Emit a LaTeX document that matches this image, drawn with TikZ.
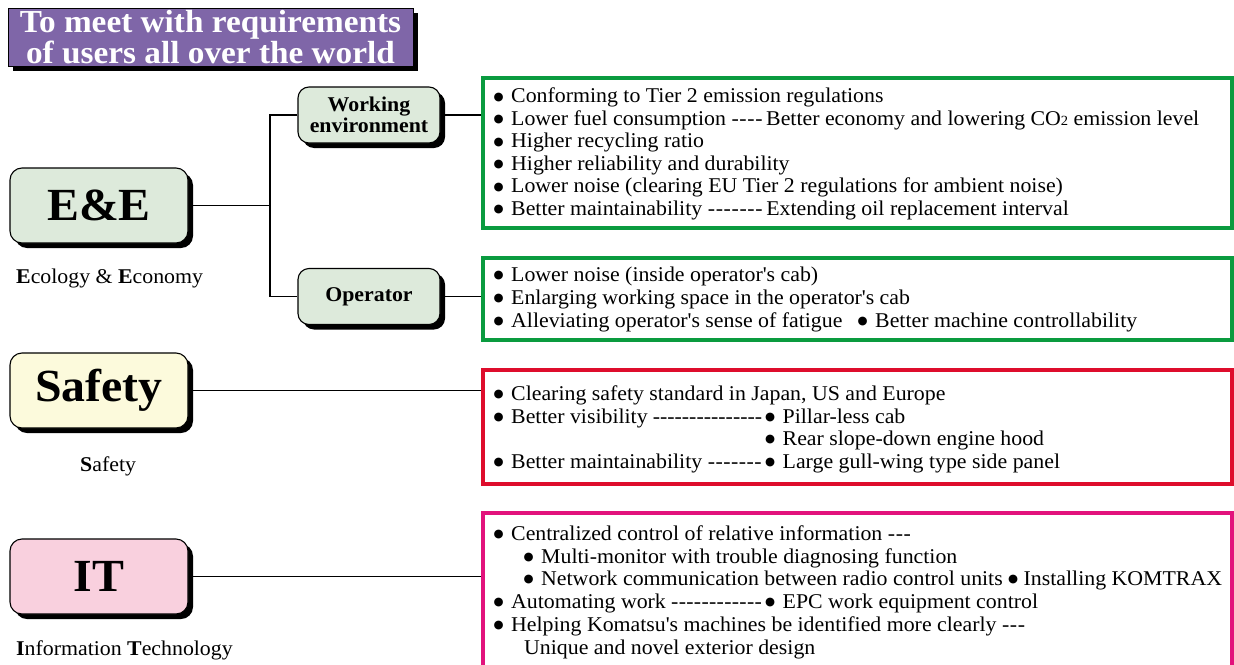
\documentclass[tikz,border=0pt]{standalone}
\usepackage{fontspec}
\setmainfont[FakeStretch=1.04]{Liberation Serif}
\newfontfamily\symfont{DejaVu Sans}
\usetikzlibrary{shadows}
\definecolor{ttlpurple}{HTML}{7F66A8}
\definecolor{eegreen}{HTML}{DDEADB}
\definecolor{sfyellow}{HTML}{FCFADC}
\definecolor{itpink}{HTML}{F9D0DE}
\definecolor{boxgreen}{HTML}{0A9B3F}
\definecolor{boxred}{HTML}{DE0D2C}
\definecolor{boxmag}{HTML}{E2127C}
\newcommand{\bdot}{\raisebox{2.6pt}{\symfont\fontsize{11.5}{11.5}\selectfont ●}}
\newcommand{\bl}{\makebox[17.5pt][l]{\bdot}}
\newcommand{\ap}{\textquotesingle}
\newcommand{\lead}[2]{\hbox to #1{#2\hskip 5pt\xleaders\hbox{-}\hfill\hskip 3pt}}
\newcommand{\tailrule}{\hskip 5pt\hbox to 24pt{\xleaders\hbox{-}\hfill}}
\tikzset{
  shad/.style={drop shadow={shadow xshift=5pt,shadow yshift=-5pt,fill=black,opacity=1}},
  bigbox/.style={draw=black,line width=1.1pt,rounded corners=12pt,shad,minimum width=178pt,minimum height=75pt,inner sep=0pt,font=\fontsize{46}{46}\selectfont\bfseries},
  subbox/.style={draw=black,line width=1.1pt,rounded corners=11pt,shad,fill=eegreen,minimum width=142pt,minimum height=56pt,inner sep=0pt,align=center,font=\fontsize{21}{21.5}\selectfont\bfseries},
  listbox/.style={draw=#1,line width=4pt,minimum width=749pt,inner sep=0pt},
  row/.style={anchor=base west,inner sep=0pt,font=\fontsize{21}{22.5}\selectfont},
  conn/.style={line width=1.4pt,black},
}
\begin{document}
\begin{tikzpicture}[x=1pt,y=-1pt]
\useasboundingbox (0,0) rectangle (1234,664);
\clip (0,0) rectangle (1234,664);
% title
\node[draw=black,line width=0.8pt,fill=ttlpurple,shad,minimum width=405pt,minimum height=58pt,inner sep=0pt,text=white,align=center,font=\fontsize{32}{25}\selectfont\bfseries] (title) at (210.5,37) {To meet with requirements\\of users all over the world};
% main boxes
\node[bigbox,fill=eegreen] (ee) at (99,205.5) {E\&E};
\node[bigbox,fill=sfyellow] (sf) at (99,390.5) {Safety};
\node[bigbox,fill=itpink] (it) at (99,576.5) {IT};
\node[row] (eelab) at (16,283) {\textbf{E}cology \& \textbf{E}conomy};
\node[row] (sflab) at (80,471) {\textbf{S}afety};
\node[row] (itlab) at (16,655) {\textbf{I}nformation \textbf{T}echnology};
% sub boxes
\node[subbox] (work) at (369,115) {Working\\environment};
\node[subbox] (oper) at (369,296.5) {Operator};
% list boxes
\node[listbox=boxgreen,minimum height=150pt] (g1) at (857.5,153) {};
\node[listbox=boxgreen,minimum height=82pt] (g2) at (857.5,299) {};
\node[listbox=boxred,minimum height=114pt] (rd) at (857.5,427) {};
\node[listbox=boxmag,minimum height=157pt] (mg) at (857.5,591.5) {};
% connectors
\coordinate (j) at (270,207);
\draw[conn] (ee.east) -- (ee.east -| j);
\draw[conn] (work.west) -| (j) |- (oper.west);
\draw[conn] (work.east) -- (work.east -| g1.west);
\draw[conn] (oper.east) -- (oper.east -| g2.west);
\draw[conn] (sf.east) -- (sf.east -| rd.west);
\draw[conn] (it.east) -- (it.east -| mg.west);
% green list 1
\node[row] (g1a) at (493.5,102.7) {\bl Conforming to Tier 2 emission regulations};
\node[row] (g1b) at (493.5,125.2) {\lead{272.5pt}{\bl Lower fuel consumption}Better economy and lowering CO{\fontsize{14}{14}\selectfont 2} emission level};
\node[row] (g1c) at (493.5,147.7) {\bl Higher recycling ratio};
\node[row] (g1d) at (493.5,170.2) {\bl Higher reliability and durability};
\node[row] (g1e) at (493.5,192.7) {\bl Lower noise (clearing EU Tier 2 regulations for ambient noise)};
\node[row] (g1f) at (493.5,215.2) {\lead{272.5pt}{\bl Better maintainability}Extending oil replacement interval};
% green list 2
\node[row] (g2a) at (493.5,281.5) {\bl Lower noise (inside operator\ap s cab)};
\node[row] (g2b) at (493.5,304.5) {\bl Enlarging working space in the operator\ap s cab};
\node[row] (g2c) at (493.5,327.5) {\hbox to 364pt{\bl Alleviating operator\ap s sense of fatigue\hfill}\bl Better machine controllability};
% red list
\node[row] (rda) at (493.5,400.5) {\bl Clearing safety standard in Japan, US and Europe};
\node[row] (rdb) at (493.5,423) {\lead{271.5pt}{\bl Better visibility}\bl Pillar-less cab};
\node[row] (rdc) at (493.5,445.5) {\hspace*{271.5pt}\bl Rear slope-down engine hood};
\node[row] (rdd) at (493.5,468) {\lead{271.5pt}{\bl Better maintainability}\bl Large gull-wing type side panel};
% magenta list
\node[row] (mga) at (493.5,540.5) {\bl Centralized control of relative information\tailrule};
\node[row] (mgb) at (493.5,563) {\hspace*{30pt}\bl Multi-monitor with trouble diagnosing function};
\node[row] (mgc) at (493.5,585.5) {\hspace*{30pt}\bl Network communication between radio control units \bdot\ Installing KOMTRAX};
\node[row] (mgd) at (493.5,608) {\lead{271.5pt}{\bl Automating work}\bl EPC work equipment control};
\node[row] (mge) at (493.5,631) {\bl Helping Komatsu\ap s machines be identified more clearly\tailrule};
\node[row] (mgf) at (493.5,654) {\hspace*{30.5pt}Unique and novel exterior design};
\end{tikzpicture}
\end{document}
